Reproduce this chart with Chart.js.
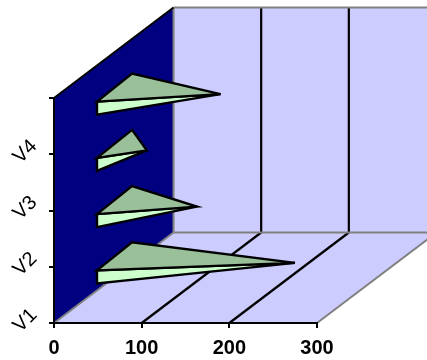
<!DOCTYPE html>
<html>
<head>
<meta charset="utf-8">
<style>
  html, body { margin: 0; padding: 0; background: #fff; }
  canvas { display: block; }
</style>
<script src="https://cdn.jsdelivr.net/npm/chart.js@4"></script>
</head>
<body>
<canvas id="coneChart" width="427" height="360"></canvas>
<script>
const categories = ["V1", "V2", "V3", "V4"];
const values = [207, 95, 38, 122];
const valueTicks = [0, 100, 200, 300];

// how far the back wall sits behind the front plane, in px
const DEPTH_X = 119.5;
const DEPTH_Y = 90.5;

const wallsPlugin = {
  id: "walls",
  beforeDraw(chart) {
    const ctx = chart.ctx;
    const { left, right, top, bottom } = chart.chartArea;
    const x = chart.scales.x;

    const poly = (pts, fill) => {
      ctx.beginPath();
      pts.forEach((p, i) => (i ? ctx.lineTo(p[0], p[1]) : ctx.moveTo(p[0], p[1])));
      ctx.closePath();
      ctx.fillStyle = fill;
      ctx.fill();
    };
    const line = (x1, y1, x2, y2, color, width) => {
      ctx.beginPath();
      ctx.moveTo(x1, y1);
      ctx.lineTo(x2, y2);
      ctx.strokeStyle = color;
      ctx.lineWidth = width;
      ctx.stroke();
    };

    const bx = left + DEPTH_X;
    const brx = right + DEPTH_X;
    const by = bottom - DEPTH_Y;
    const ty = top - DEPTH_Y;

    poly([[bx, ty], [brx, ty], [brx, by], [bx, by]], "#ccccff");
    poly([[left, bottom], [right, bottom], [brx, by], [bx, by]], "#ccccff");
    poly([[left, bottom], [bx, by], [bx, ty], [left, top]], "#000080");

    // grid lines run over the floor and up the back wall
    x.ticks.forEach((t) => {
      if (t.value <= x.min || t.value >= x.max) return;
      const px = x.getPixelForValue(t.value);
      line(px, bottom, px + DEPTH_X, by, "#000", 2.2);
      line(px + DEPTH_X, by, px + DEPTH_X, ty, "#000", 2.2);
    });

    line(left, bottom, bx, by, "#808080", 2);
    line(bx, by, brx, by, "#808080", 2);
    line(bx, by, bx, ty, "#808080", 2);
    line(bx, ty, brx, ty, "#808080", 2);
    line(right, bottom, brx, by, "#808080", 2);
    line(left, top, bx, ty, "#000", 2);
  },
};

const conesPlugin = {
  id: "cones",
  afterDatasetsDraw(chart) {
    const ctx = chart.ctx;
    const meta = chart.getDatasetMeta(0);
    ctx.save();
    ctx.lineWidth = 2.4;
    ctx.strokeStyle = "#000";
    ctx.lineJoin = "miter";
    ctx.miterLimit = 6;
    meta.data.forEach((bar) => {
      const baseX = bar.base + 42;
      const frontTop = bar.y - 24.5;
      const frontBottom = frontTop + bar.height;
      const backX = bar.base + 77;
      const backTop = frontTop - 28;
      const tipX = bar.x + 59.5;
      const tipY = frontTop - 7.5;

      ctx.beginPath();
      ctx.moveTo(baseX, frontTop);
      ctx.lineTo(baseX, frontBottom);
      ctx.lineTo(tipX, tipY);
      ctx.closePath();
      ctx.fillStyle = "#ccffcc";
      ctx.fill();
      ctx.stroke();

      ctx.beginPath();
      ctx.moveTo(baseX, frontTop);
      ctx.lineTo(backX, backTop);
      ctx.lineTo(tipX, tipY);
      ctx.closePath();
      ctx.fillStyle = "#99c099";
      ctx.fill();
      ctx.stroke();
    });
    ctx.restore();
  },
};

new Chart(document.getElementById("coneChart"), {
  type: "bar",
  data: {
    labels: categories,
    datasets: [
      {
        data: values,
        backgroundColor: "rgba(0,0,0,0)",
        borderWidth: 0,
        barThickness: 13,
      },
    ],
  },
  options: {
    indexAxis: "y",
    responsive: false,
    animation: false,
    layout: { padding: { top: 98, right: 110 } },
    plugins: { legend: { display: false }, tooltip: { enabled: false } },
    scales: {
      x: {
        type: "linear",
        min: valueTicks[0],
        max: valueTicks[valueTicks.length - 1],
        afterFit(scale) {
          scale.height = 37;
        },
        grid: { drawOnChartArea: false, color: "#000", lineWidth: 2, tickLength: 5 },
        border: { color: "#000", width: 2 },
        ticks: {
          stepSize: 100,
          maxRotation: 0,
          padding: 8,
          color: "#000",
          font: { family: "Liberation Sans", size: 20, weight: "bold" },
        },
      },
      y: {
        reverse: true,
        afterFit(scale) {
          scale.width = 54;
        },
        grid: { drawOnChartArea: false, color: "#000", lineWidth: 2, tickLength: 5 },
        border: { color: "#000", width: 2 },
        ticks: {
          minRotation: 45,
          maxRotation: 45,
          labelOffset: 17,
          padding: 15,
          color: "#000",
          font: { family: "Liberation Sans", size: 20 },
        },
      },
    },
  },
  plugins: [wallsPlugin, conesPlugin],
});
</script>
</body>
</html>
